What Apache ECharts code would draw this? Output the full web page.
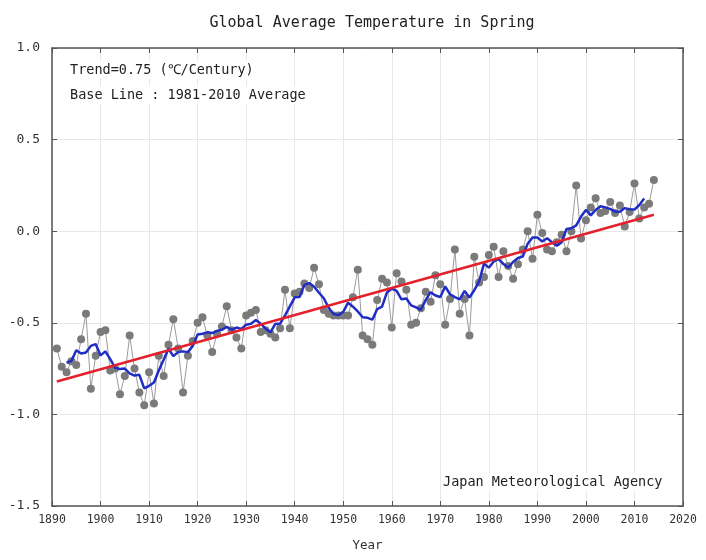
<!DOCTYPE html>
<html>
<head>
<meta charset="utf-8">
<title>Global Average Temperature in Spring</title>
<script src="https://cdn.jsdelivr.net/npm/echarts@6/dist/echarts.min.js"></script>
<style>
  html, body { margin: 0; padding: 0; background: #fff; }
  #mychart { width: 706px; height: 560px; }
</style>
</head>
<body>
<div id="mychart"></div>
<script>
// anomaly from the 1981-2010 average, spring (MAM)
var firstYear = 1891;
var anomaly = [
  -0.64, -0.74, -0.77, -0.71, -0.73, -0.59, -0.45, -0.86, -0.68, -0.55,   // 1891-1900
  -0.54, -0.76, -0.75, -0.89, -0.79, -0.57, -0.75, -0.88, -0.95, -0.77,   // 1901-1910
  -0.94, -0.68, -0.79, -0.62, -0.48, -0.64, -0.88, -0.68, -0.60, -0.50,   // 1911-1920
  -0.47, -0.57, -0.66, -0.56, -0.52, -0.41, -0.54, -0.58, -0.64, -0.46,   // 1921-1930
  -0.445, -0.43, -0.55, -0.54, -0.56, -0.58, -0.53, -0.32, -0.53, -0.34,  // 1931-1940
  -0.33, -0.285, -0.31, -0.20, -0.29, -0.43, -0.45, -0.46, -0.46, -0.46,  // 1941-1950
  -0.46, -0.36, -0.21, -0.57, -0.59, -0.62, -0.375, -0.26, -0.28, -0.525, // 1951-1960
  -0.23, -0.275, -0.32, -0.51, -0.50, -0.42, -0.33, -0.385, -0.24, -0.29, // 1961-1970
  -0.51, -0.37, -0.10, -0.45, -0.37, -0.57, -0.14, -0.28, -0.25, -0.13,   // 1971-1980
  -0.085, -0.25, -0.11, -0.19, -0.26, -0.18, -0.10, 0.00, -0.15, 0.09,    // 1981-1990
  -0.01, -0.10, -0.11, -0.06, -0.02, -0.11, 0.00, 0.25, -0.04, 0.06,      // 1991-2000
  0.13, 0.18, 0.10, 0.11, 0.16, 0.10, 0.14, 0.025, 0.105, 0.26,           // 2001-2010
  0.07, 0.13, 0.15, 0.28                                                  // 2011-2014
];
// long-term trend line, end points
var trendYears = [1891, 2014];
var trendValues = [-0.82, 0.09];
var xTicks = [1890, 2020, 10];
var yTicks = [-1.5, 1.0, 0.5];

var years = [];
for (var i = 0; i < anomaly.length; i++) years.push(firstYear + i);

var rawData = [];
for (var i = 0; i < anomaly.length; i++) rawData.push([years[i], anomaly[i]]);

// 5-year running mean of the yearly values
var meanData = [];
for (var i = 2; i < anomaly.length - 2; i++) {
  var s = 0;
  for (var k = -2; k <= 2; k++) s += anomaly[i + k];
  meanData.push([years[i], s / 5]);
}

var trendData = [];
for (var i = 0; i < trendYears.length; i++) trendData.push([trendYears[i], trendValues[i]]);

var mono = 'DejaVu Sans Mono';
var axisColor = '#555';
var noteFont = '13.5px "DejaVu Sans Mono"';

var myChart = echarts.init(document.getElementById('mychart'));
var option = {
  animation: false,
  title: {
    text: 'Global Average Temperature in Spring',
    left: 367, textAlign: 'center',
    top: 11,
    textStyle: { fontFamily: mono, fontSize: 15, fontWeight: 'normal', color: '#222' }
  },
  grid: { left: 52, right: 23, top: 48, bottom: 54 },
  xAxis: [{
    type: 'value',
    min: xTicks[0], max: xTicks[1], interval: xTicks[2],
    name: 'Year', nameLocation: 'middle', nameGap: 33,
    nameTextStyle: { fontFamily: mono, fontSize: 12.5, color: '#333' },
    axisLine: { onZero: false, lineStyle: { color: axisColor, width: 1.5 } },
    axisTick: { inside: true, length: 5, lineStyle: { color: axisColor } },
    axisLabel: {
      fontFamily: mono, fontSize: 11.5, color: '#333', margin: 8,
      formatter: function (v) { return String(v); }
    },
    splitLine: { show: true, lineStyle: { color: '#e8e8e8', width: 1 } }
  }, {
    type: 'value', position: 'top',
    min: xTicks[0], max: xTicks[1], interval: xTicks[2],
    axisLine: { onZero: false, lineStyle: { color: axisColor, width: 1.5 } },
    axisTick: { inside: true, length: 5, lineStyle: { color: axisColor } },
    axisLabel: { show: false },
    splitLine: { show: false }
  }],
  yAxis: [{
    type: 'value',
    min: yTicks[0], max: yTicks[1], interval: yTicks[2],
    axisLine: { onZero: false, lineStyle: { color: axisColor, width: 1.5 } },
    axisTick: { inside: true, length: 5, lineStyle: { color: axisColor } },
    axisLabel: {
      fontFamily: mono, fontSize: 13, color: '#333', margin: 12,
      formatter: function (v) { return v.toFixed(1); }
    },
    splitLine: { show: true, lineStyle: { color: '#e8e8e8', width: 1 } }
  }, {
    type: 'value', position: 'right',
    min: yTicks[0], max: yTicks[1], interval: yTicks[2],
    axisLine: { onZero: false, lineStyle: { color: axisColor, width: 1.5 } },
    axisTick: { inside: true, length: 5, lineStyle: { color: axisColor } },
    axisLabel: { show: false },
    splitLine: { show: false }
  }],
  graphic: [
    { type: 'text', left: 68, top: 61, z: 10,
      style: { text: 'Trend=0.75 (\u2103/Century)', font: noteFont, fill: '#222',
               backgroundColor: '#fff', padding: [2, 2, 2, 2] } },
    { type: 'text', left: 68, top: 86, z: 10,
      style: { text: 'Base Line : 1981-2010 Average', font: noteFont, fill: '#222',
               backgroundColor: '#fff', padding: [2, 2, 2, 2] } },
    { type: 'text', left: 441, top: 473, z: 10,
      style: { text: 'Japan Meteorological Agency', font: noteFont, fill: '#222',
               backgroundColor: '#fff', padding: [2, 2, 2, 2] } }
  ],
  series: [{
    name: 'yearly', type: 'line',
    data: rawData,
    symbol: 'circle', symbolSize: 8,
    itemStyle: { color: '#7a7a7a' },
    lineStyle: { color: '#9a9a9a', width: 1 },
    z: 2
  }, {
    name: '5yr mean', type: 'line',
    data: meanData,
    showSymbol: false,
    lineStyle: { color: '#1f2dc4', width: 2.5 },
    z: 3
  }, {
    name: 'trend', type: 'line',
    data: trendData,
    showSymbol: false,
    lineStyle: { color: '#e3202c', width: 2.5 },
    z: 4
  }]
};
myChart.setOption(option, true);
</script>
</body>
</html>
